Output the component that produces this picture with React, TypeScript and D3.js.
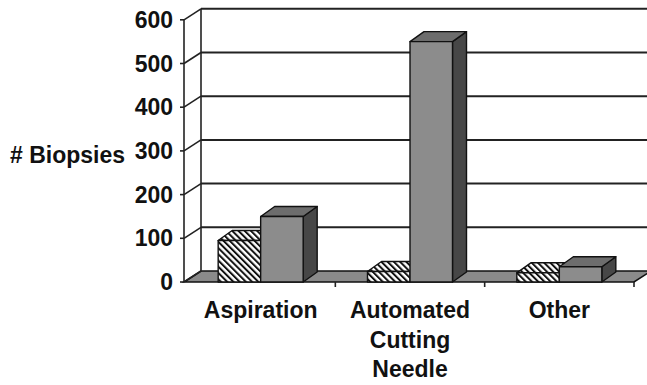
import React from "react";
import * as d3 from "d3";

// Biopsy counts by technique, two series per category
const categories = ["Aspiration", "Automated Cutting Needle", "Other"];
const seriesNames = ["Series A", "Series B"];
const hatchedValues = [95, 24, 21];
const solidValues = [150, 550, 35];
const yTicks = [0, 100, 200, 300, 400, 500, 600];

const W = 647;
const H = 385;
const FONT = "'Liberation Sans', Arial, Helvetica, sans-serif";

// 3D frame geometry
const AXIS_X = 184; // front vertical axis
const BASE_Y = 282; // front baseline
const DX = 17; // wall depth offset
const DY = -11;
const BDX = 14; // bar depth offset
const BDY = -10;

const y = d3.scaleLinear().domain([0, 600]).range([BASE_Y, BASE_Y - 600 * 0.437]);
const x = d3.scaleBand<string>().domain(categories).range([186, 634]);
const PAIR_W = 85;
const xs = d3.scaleBand<string>().domain(seriesNames).range([0, PAIR_W]);

const pts = (arr: [number, number][]) => arr.map((p) => p.join(",")).join(" ");

function Bar3D({ x0, w, v, fill, topFill, sideFill, showSide }: any) {
  const yv = y(v);
  const stroke = "#111";
  return (
    <g stroke={stroke} strokeWidth={1.4} strokeLinejoin="round">
      {showSide && (
        <polygon
          points={pts([
            [x0 + w, yv],
            [x0 + w + BDX, yv + BDY],
            [x0 + w + BDX, BASE_Y + BDY],
            [x0 + w, BASE_Y],
          ])}
          fill={sideFill}
        />
      )}
      <polygon
        points={pts([
          [x0, yv],
          [x0 + w, yv],
          [x0 + w + BDX, yv + BDY],
          [x0 + BDX, yv + BDY],
        ])}
        fill={topFill}
      />
      <rect x={x0} y={yv} width={w} height={BASE_Y - yv} fill={fill} />
    </g>
  );
}

export default function App() {
  const backLeft = AXIS_X + DX;
  return (
    <svg
      width={W}
      height={H}
      viewBox={`0 0 ${W} ${H}`}
      style={{ position: "absolute", left: 0, top: 0, background: "#fff" }}
    >
      <defs>
        <pattern
          id="hatch"
          patternUnits="userSpaceOnUse"
          width={4.4}
          height={10}
          patternTransform="rotate(-45)"
        >
          <rect x={0} y={0} width={4.4} height={10} fill="#fff" />
          <rect x={0} y={0} width={2} height={10} fill="#111" />
        </pattern>
      </defs>

      {/* floor */}
      <polygon
        points={pts([
          [AXIS_X, BASE_Y],
          [634, BASE_Y],
          [634 + DX, BASE_Y + DY],
          [backLeft, BASE_Y + DY],
        ])}
        fill="#8a8a8a"
        stroke="#111"
        strokeWidth={1.6}
      />

      {/* back wall gridlines */}
      {yTicks.slice(1).map((t) => (
        <line
          key={`g${t}`}
          x1={backLeft}
          x2={W + 10}
          y1={y(t) + DY}
          y2={y(t) + DY}
          stroke="#222"
          strokeWidth={2}
        />
      ))}
      <line x1={backLeft} x2={backLeft} y1={y(600) + DY} y2={y(0) + DY} stroke="#222" strokeWidth={1.6} />

      {/* side wall ticks and front axis */}
      {yTicks.map((t) => (
        <g key={`t${t}`} stroke="#222" strokeWidth={1.6}>
          <line x1={AXIS_X - 4} x2={AXIS_X} y1={y(t)} y2={y(t)} />
          <line x1={AXIS_X} x2={backLeft} y1={y(t)} y2={y(t) + DY} />
        </g>
      ))}
      <line x1={AXIS_X} x2={AXIS_X} y1={y(600)} y2={y(0)} stroke="#222" strokeWidth={1.6} />

      {/* category ticks */}
      {categories.map((c, i) => (
        <line
          key={`ct${c}`}
          x1={(x(c) as number) + x.bandwidth()}
          x2={(x(c) as number) + x.bandwidth()}
          y1={BASE_Y}
          y2={BASE_Y + 5}
          stroke="#222"
          strokeWidth={1.6}
        />
      ))}

      {/* bars */}
      {categories.map((c, i) => {
        const start = (x(c) as number) + x.bandwidth() / 2 - PAIR_W / 2;
        const w = xs.bandwidth();
        return (
          <g key={`b${c}`}>
            <Bar3D
              x0={start + (xs(seriesNames[0]) as number)}
              w={w}
              v={hatchedValues[i]}
              fill="url(#hatch)"
              topFill="url(#hatch)"
              sideFill="#555"
              showSide={false}
            />
            <Bar3D
              x0={start + (xs(seriesNames[1]) as number)}
              w={w}
              v={solidValues[i]}
              fill="#8c8c8c"
              topFill="#6d6d6d"
              sideFill="#474747"
              showSide={true}
            />
          </g>
        );
      })}

      {/* y tick labels */}
      {yTicks.map((t) => (
        <text
          key={`l${t}`}
          x={173}
          y={y(t) + 8}
          textAnchor="end"
          fontFamily={FONT}
          fontWeight="bold"
          fontSize={23}
          fill="#111"
        >
          {t}
        </text>
      ))}

      {/* axis title */}
      <text x={10} y={163} fontFamily={FONT} fontWeight="bold" fontSize={23} fill="#111">
        # Biopsies
      </text>

      {/* category labels */}
      {categories.map((c) => (
        <text
          key={`cl${c}`}
          textAnchor="middle"
          fontFamily={FONT}
          fontWeight="bold"
          fontSize={23}
          fill="#111"
        >
          {c.split(" ").map((word, j) => (
            <tspan key={j} x={(x(c) as number) + x.bandwidth() / 2} y={318 + j * 29.5}>
              {word}
            </tspan>
          ))}
        </text>
      ))}
    </svg>
  );
}
